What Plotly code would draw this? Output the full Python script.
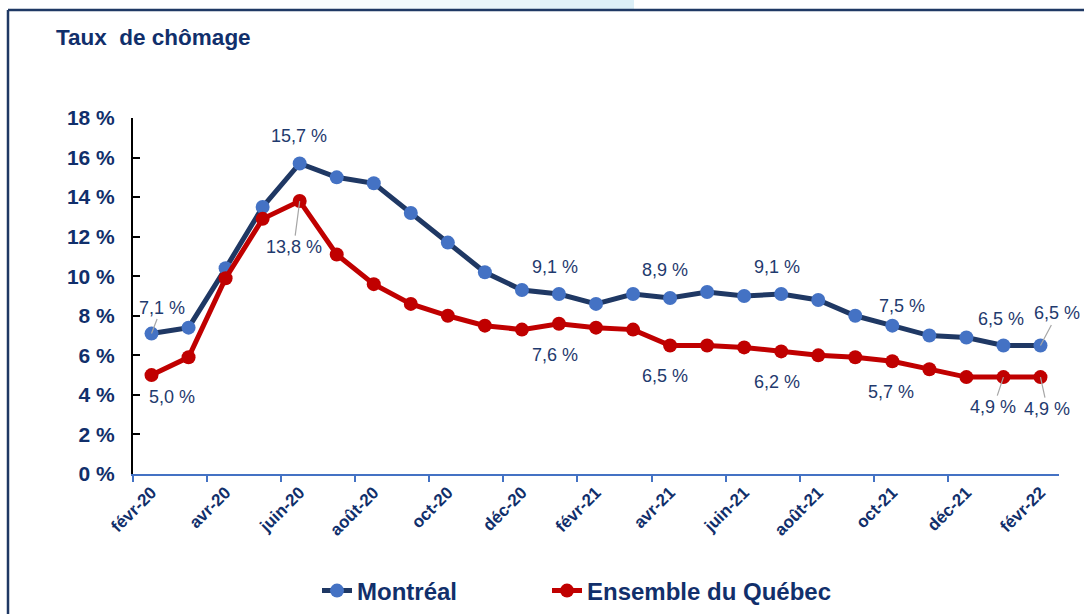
import plotly.graph_objects as go

# ---------------- data ----------------
months = ["févr-20", "mars-20", "avr-20", "mai-20", "juin-20", "juil-20", "août-20",
          "sept-20", "oct-20", "nov-20", "déc-20", "janv-21", "févr-21", "mars-21",
          "avr-21", "mai-21", "juin-21", "juil-21", "août-21", "sept-21", "oct-21",
          "nov-21", "déc-21", "janv-22", "févr-22"]
montreal = [7.1, 7.4, 10.4, 13.5, 15.7, 15.0, 14.7, 13.2, 11.7, 10.2, 9.3, 9.1, 8.6,
            9.1, 8.9, 9.2, 9.0, 9.1, 8.8, 8.0, 7.5, 7.0, 6.9, 6.5, 6.5]
quebec = [5.0, 5.9, 9.9, 12.9, 13.8, 11.1, 9.6, 8.6, 8.0, 7.5, 7.3, 7.6, 7.4,
          7.3, 6.5, 6.5, 6.4, 6.2, 6.0, 5.9, 5.7, 5.3, 4.9, 4.9, 4.9]
tick_idx = list(range(0, len(months), 2))
tick_labels = [months[i] for i in tick_idx]
y_ticks = [0, 2, 4, 6, 8, 10, 12, 14, 16, 18]
series_names = ["Montréal", "Ensemble du Québec"]
title_text = "Taux\u00a0 de chômage"

# labelled points: index -> (dx px, dy px up, leader line?)
mtl_labels = {0: (10, 26, True), 4: (-1, 27, False), 11: (-4, 27, False),
              14: (-5, 28, False), 17: (-4, 27, False), 20: (10, 20, False),
              23: (-2, 26, False), 24: (17, 32, True)}
qc_labels = {0: (20, -22, False), 4: (-6, -46, True), 11: (-4, -31, False),
             14: (-5, -31, False), 17: (-4, -31, False), 20: (-1, -31, False),
             23: (-10, -30, True), 24: (7, -32, True)}

# ---------------- style ----------------
FONT = "Liberation Sans, Arial, sans-serif"
NAVY = "#112F6B"
LABEL = "#1F3A6E"
MTL_LINE = "#1F3864"
MTL_MARK = "#4472C4"
QC = "#C00000"
W, H = 1084, 614
L, R, T, B = 133, 25, 118, 140
PW, PH = W - L - R, H - T - B


def px(x):
    return (x - L) / PW


def py(y):
    return (H - B - y) / PH


def fmt(v):
    return f"{v:.1f}".replace(".", ",") + " %"


x = list(range(len(months)))
fig = go.Figure()
fig.add_trace(go.Scatter(x=x, y=montreal, name=series_names[0], mode="lines+markers",
                         line=dict(color=MTL_LINE, width=5),
                         marker=dict(color=MTL_MARK, size=14), legend="legend"))
fig.add_trace(go.Scatter(x=x, y=quebec, name=series_names[1], mode="lines+markers",
                         line=dict(color=QC, width=5),
                         marker=dict(color=QC, size=14), legend="legend2"))

annotations = []
for values, labels in ((montreal, mtl_labels), (quebec, qc_labels)):
    for i, (dx, dy, leader) in labels.items():
        common = dict(x=i, y=values[i], xref="x", yref="y", text=fmt(values[i]),
                      font=dict(family=FONT, size=18, color=LABEL))
        if leader:
            annotations.append(dict(**common, showarrow=True, arrowhead=0,
                                    arrowwidth=1.2, arrowcolor="#A6A6A6",
                                    ax=dx, ay=-dy, standoff=0))
        else:
            annotations.append(dict(**common, showarrow=False, xshift=dx, yshift=dy))

annotations.append(dict(x=px(54), y=py(38), xref="paper", yref="paper",
                        xanchor="left", yanchor="middle", showarrow=False,
                        text="<b>" + title_text + "</b>",
                        font=dict(family=FONT, size=22.5, color=NAVY)))

shapes = []
# light-blue band at the very top
band = [(300, 380, 0.12), (380, 460, 0.25), (460, 540, 0.4), (540, 600, 0.55),
        (600, 634, 0.65)]
for x0, x1, op in band:
    shapes.append(dict(type="rect", xref="paper", yref="paper", x0=px(x0), x1=px(x1),
                       y0=py(9), y1=py(0), fillcolor="#C9E6F2", opacity=op,
                       line=dict(width=0), layer="below"))
# frame lines
shapes.append(dict(type="line", xref="paper", yref="paper", x0=px(8), x1=px(W),
                   y0=py(10), y1=py(10), line=dict(color=MTL_LINE, width=2.5)))
shapes.append(dict(type="line", xref="paper", yref="paper", x0=px(8), x1=px(8),
                   y0=py(10), y1=py(H), line=dict(color=MTL_LINE, width=2.5)))

legend_font = dict(family=FONT, size=24, color=NAVY, weight="bold")
fig.update_layout(
    width=W, height=H, autosize=False,
    margin=dict(l=L, r=R, t=T, b=B, pad=0, autoexpand=False),
    paper_bgcolor="white", plot_bgcolor="white",
    showlegend=True,
    legend=dict(orientation="h", x=px(317), y=py(591), xanchor="left", yanchor="middle",
                font=legend_font, bgcolor="rgba(0,0,0,0)", itemclick=False),
    legend2=dict(orientation="h", x=px(547), y=py(591), xanchor="left", yanchor="middle",
                 font=legend_font, bgcolor="rgba(0,0,0,0)", itemclick=False),
    annotations=annotations,
    shapes=shapes,
    xaxis=dict(range=[-0.5, len(months) - 0.5], tickmode="array", tickvals=tick_idx,
               ticktext=tick_labels, tickangle=-45, ticks="",
               showline=True, linecolor=MTL_MARK, linewidth=2,
               showgrid=False, zeroline=False,
               tickfont=dict(family=FONT, size=17, color=NAVY, weight="bold"),
               minor=dict(tickmode="array",
                          tickvals=[i - 0.5 for i in tick_idx if i < len(months) - 1],
                          ticks="outside", ticklen=6, tickwidth=2, tickcolor=MTL_MARK,
                          showgrid=False),
               fixedrange=True),
    yaxis=dict(range=[0, 18], tickmode="array", tickvals=y_ticks,
               ticktext=[f"{v} %" for v in y_ticks],
               ticks="inside", ticklen=7, tickwidth=2, tickcolor="black",
               showline=True, linecolor="black", linewidth=2,
               showgrid=False, zeroline=False, ticklabelstandoff=12,
               tickfont=dict(family=FONT, size=21, color=NAVY, weight="bold"),
               fixedrange=True),
)

fig.write_html("out.html")
